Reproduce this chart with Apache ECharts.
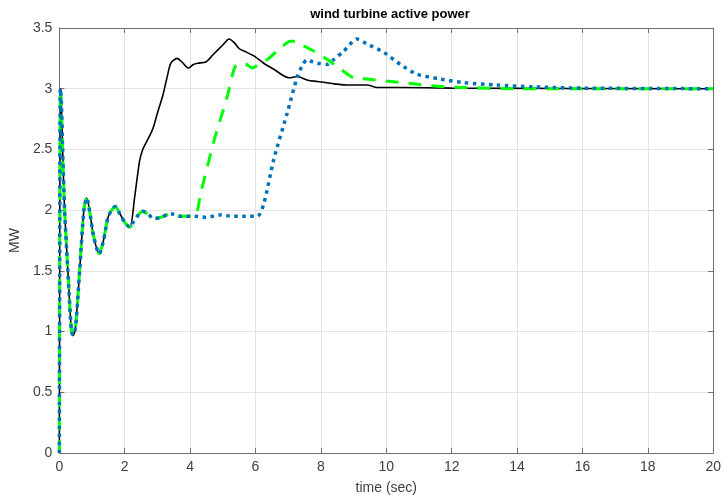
<!DOCTYPE html>
<html>
<head>
<meta charset="utf-8">
<script src="https://cdn.jsdelivr.net/npm/echarts@6/dist/echarts.min.js"></script>
<style>
  html, body { margin: 0; padding: 0; background: #fff; }
  #container { width: 724px; height: 500px; }
</style>
</head>
<body>
<div id="container"></div>
<script>
// common start-up oscillation (all three cases identical)
var tStart = [0, 0.03, 0.06, 0.1, 0.16, 0.26, 0.37, 0.43, 0.5, 0.62, 0.75, 0.84, 0.95, 1.05, 1.22, 1.35, 1.5, 1.71, 1.85, 2.0, 2.16];
var pStart = [0, 3.0, 2.9, 2.5, 2.0, 1.5, 1.0, 0.97, 1.05, 1.5, 2.0, 2.1, 1.95, 1.78, 1.64, 1.75, 1.95, 2.03, 1.97, 1.9, 1.86];

// case 1 - black solid
var tBlack = [2.3, 2.45, 2.55, 2.7, 2.86, 3.0, 3.16, 3.3, 3.41, 3.6, 3.75, 3.94, 4.1, 4.23, 4.48, 4.7, 5.0, 5.19, 5.35, 5.5, 5.65, 5.95, 6.25, 6.56, 7.02, 7.28, 7.6, 7.89, 8.4, 8.9, 9.41, 9.72, 10.43, 12, 20];
var pBlack = [2.1, 2.4, 2.5, 2.58, 2.67, 2.8, 2.94, 3.1, 3.21, 3.25, 3.22, 3.17, 3.2, 3.21, 3.22, 3.28, 3.36, 3.41, 3.38, 3.33, 3.31, 3.27, 3.21, 3.16, 3.09, 3.1, 3.07, 3.06, 3.04, 3.03, 3.03, 3.01, 3.01, 3.005, 3.0];

// case 2 - green dashed
var tGreen = [2.3, 2.55, 2.7, 2.9, 3.1, 3.41, 3.7, 4.13, 4.33, 4.74, 5.14, 5.3, 5.4, 5.65, 5.9, 6.1, 6.36, 6.7, 7.07, 7.28, 7.5, 7.78, 8.2, 8.6, 9.0, 9.4, 10.12, 10.83, 11.55, 12.36, 14, 20];
var pGreen = [1.92, 1.99, 1.97, 1.93, 1.94, 1.97, 1.95, 1.95, 2.15, 2.58, 2.94, 3.12, 3.19, 3.21, 3.17, 3.2, 3.24, 3.32, 3.39, 3.39, 3.35, 3.31, 3.24, 3.16, 3.09, 3.08, 3.06, 3.04, 3.02, 3.01, 3.0, 3.0];

// case 3 - blue dotted
var tBlue = [2.3, 2.55, 2.7, 2.9, 3.1, 3.41, 3.7, 4.13, 4.5, 4.9, 5.3, 5.7, 6.06, 6.26, 6.56, 6.97, 7.28, 7.45, 7.58, 7.75, 7.89, 8.19, 8.39, 8.7, 9.1, 9.4, 9.92, 10.43, 10.93, 11.65, 12.36, 13.37, 14.5, 16, 20];
var pBlue = [1.92, 1.99, 1.97, 1.93, 1.94, 1.97, 1.95, 1.95, 1.94, 1.96, 1.95, 1.95, 1.95, 2.06, 2.42, 2.8, 3.1, 3.2, 3.24, 3.22, 3.21, 3.2, 3.24, 3.31, 3.41, 3.37, 3.3, 3.2, 3.12, 3.08, 3.05, 3.03, 3.015, 3.005, 3.0];

var xTicks = [0, 2, 4, 6, 8, 10, 12, 14, 16, 18, 20];
var yTicks = [0, 0.5, 1, 1.5, 2, 2.5, 3, 3.5];

function pairs(t, p) {
    var out = [];
    for (var i = 0; i < t.length; i++) out.push([t[i], p[i]]);
    return out;
}

var myChart = echarts.init(document.getElementById('container'));
var axisColor = '#707070';
var labelStyle = { color: '#404040', fontSize: 14, fontFamily: 'Liberation Sans, Arial, sans-serif' };

var xBase = {
    type: 'value', min: xTicks[0], max: xTicks[xTicks.length - 1], interval: 2,
    axisLine: { show: true, onZero: false, lineStyle: { color: axisColor, width: 1 } },
    axisTick: { show: true, inside: true, length: 5, lineStyle: { color: axisColor } }
};
var yBase = {
    type: 'value', min: yTicks[0], max: yTicks[yTicks.length - 1], interval: 0.5,
    axisLine: { show: true, onZero: false, lineStyle: { color: axisColor, width: 1 } },
    axisTick: { show: true, inside: true, length: 5, lineStyle: { color: axisColor } }
};

var option = {
    animation: false,
    backgroundColor: '#fff',
    title: {
        text: 'wind turbine active power',
        left: 385, top: 3, textAlign: 'center',
        textStyle: { fontSize: 13, fontWeight: 'bold', color: '#000', fontFamily: 'Liberation Sans, Arial, sans-serif' }
    },
    grid: { left: 58, right: 10, top: 28, bottom: 46 },
    xAxis: [
        Object.assign({}, xBase, {
            position: 'bottom',
            name: 'time (sec)', nameLocation: 'middle', nameGap: 28,
            nameTextStyle: labelStyle,
            axisLabel: Object.assign({ margin: 7 }, labelStyle),
            splitLine: { show: true, lineStyle: { color: '#e3e3e3', width: 1 } }
        }),
        Object.assign({}, xBase, {
            position: 'top',
            axisLabel: { show: false },
            splitLine: { show: false }
        })
    ],
    yAxis: [
        Object.assign({}, yBase, {
            position: 'left',
            name: 'MW', nameLocation: 'middle', nameGap: 32, nameRotate: 90,
            nameTextStyle: labelStyle,
            axisLabel: Object.assign({ margin: 7 }, labelStyle),
            splitLine: { show: true, lineStyle: { color: '#e3e3e3', width: 1 } }
        }),
        Object.assign({}, yBase, {
            position: 'right',
            axisLabel: { show: false },
            splitLine: { show: false }
        })
    ],
    series: [
        {
            name: 'case 1', type: 'line', symbol: 'none', smooth: 0.25,
            data: pairs(tStart.concat(tBlack), pStart.concat(pBlack)),
            lineStyle: { color: '#000000', width: 1.6 }
        },
        {
            name: 'case 2', type: 'line', symbol: 'none', smooth: 0.25,
            data: pairs(tStart.concat(tGreen), pStart.concat(pGreen)),
            lineStyle: { color: '#00ff00', width: 3, type: [13, 10] }
        },
        {
            name: 'case 3', type: 'line', symbol: 'none', smooth: 0.25,
            data: pairs(tStart.concat(tBlue), pStart.concat(pBlue)),
            lineStyle: { color: '#0072bd', width: 3.5, type: [3.5, 4.5] }
        }
    ]
};
myChart.setOption(option);
</script>
</body>
</html>
